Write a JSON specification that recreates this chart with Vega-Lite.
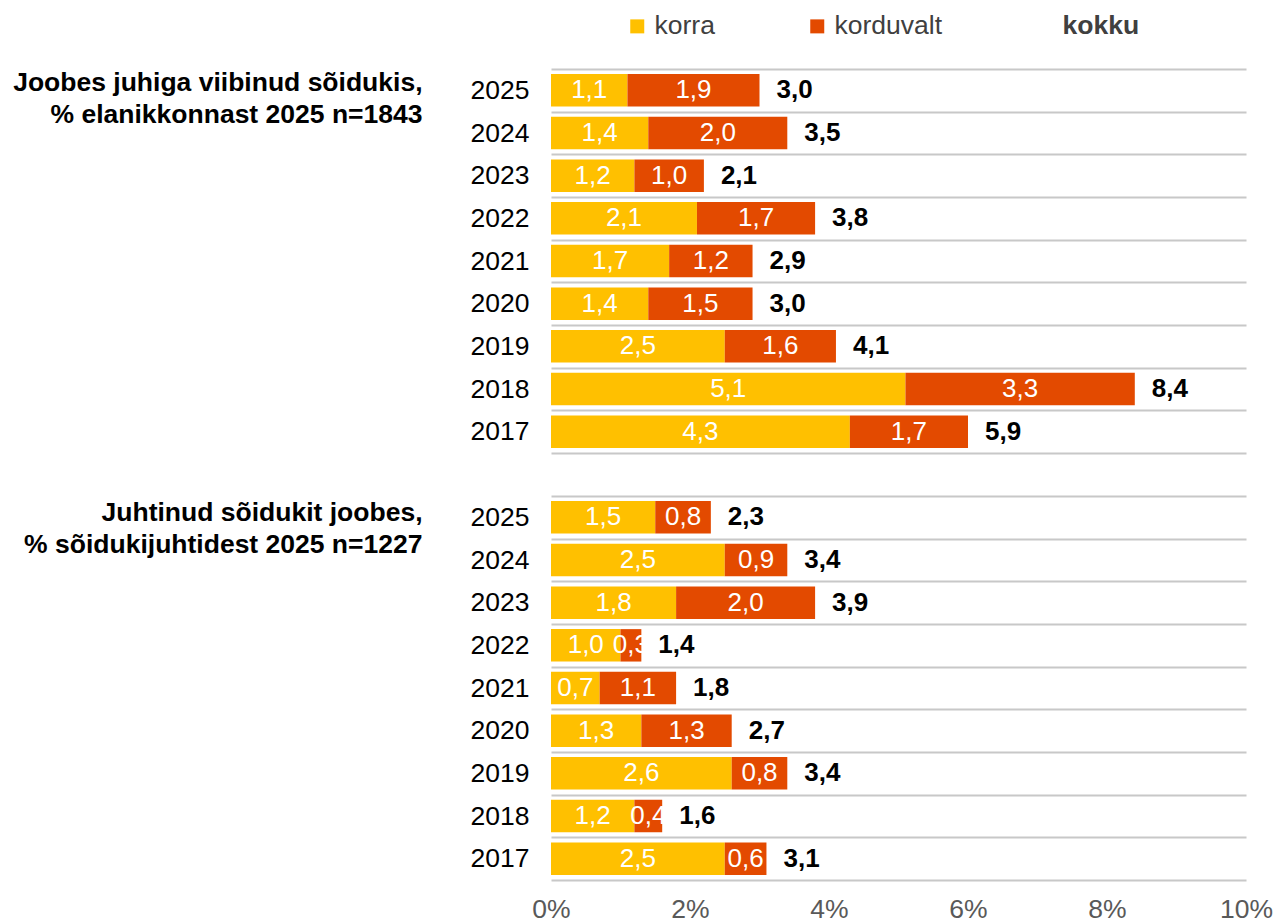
{
  "$schema": "https://vega.github.io/schema/vega-lite/v6.json",
  "padding": {"left": 12, "top": 13, "right": 5, "bottom": 0},
  "background": "white",
  "bounds": "flush",
  "spacing": 43,
  "config": {
    "locale": {"number": {"decimal": ",", "thousands": " ", "grouping": [3], "currency": ["", " €"]}},
    "view": {"stroke": null},
    "font": "Liberation Sans"
  },
  "resolve": {"legend": {"color": "independent"}},
  "datasets": {
    "rows": [
      {"group": "A", "year": "2025", "korra": 1.1, "korduvalt": 1.9, "kokku": 3.0},
      {"group": "A", "year": "2024", "korra": 1.4, "korduvalt": 2.0, "kokku": 3.5},
      {"group": "A", "year": "2023", "korra": 1.2, "korduvalt": 1.0, "kokku": 2.1},
      {"group": "A", "year": "2022", "korra": 2.1, "korduvalt": 1.7, "kokku": 3.8},
      {"group": "A", "year": "2021", "korra": 1.7, "korduvalt": 1.2, "kokku": 2.9},
      {"group": "A", "year": "2020", "korra": 1.4, "korduvalt": 1.5, "kokku": 3.0},
      {"group": "A", "year": "2019", "korra": 2.5, "korduvalt": 1.6, "kokku": 4.1},
      {"group": "A", "year": "2018", "korra": 5.1, "korduvalt": 3.3, "kokku": 8.4},
      {"group": "A", "year": "2017", "korra": 4.3, "korduvalt": 1.7, "kokku": 5.9},
      {"group": "B", "year": "2025", "korra": 1.5, "korduvalt": 0.8, "kokku": 2.3},
      {"group": "B", "year": "2024", "korra": 2.5, "korduvalt": 0.9, "kokku": 3.4},
      {"group": "B", "year": "2023", "korra": 1.8, "korduvalt": 2.0, "kokku": 3.9},
      {"group": "B", "year": "2022", "korra": 1.0, "korduvalt": 0.3, "kokku": 1.4},
      {"group": "B", "year": "2021", "korra": 0.7, "korduvalt": 1.1, "kokku": 1.8},
      {"group": "B", "year": "2020", "korra": 1.3, "korduvalt": 1.3, "kokku": 2.7},
      {"group": "B", "year": "2019", "korra": 2.6, "korduvalt": 0.8, "kokku": 3.4},
      {"group": "B", "year": "2018", "korra": 1.2, "korduvalt": 0.4, "kokku": 1.6},
      {"group": "B", "year": "2017", "korra": 2.5, "korduvalt": 0.6, "kokku": 3.1}
    ]
  },
  "vconcat": [
    {
      "width": 695,
      "height": 384,
      "data": {"name": "rows"},
      "transform": [
        {"filter": "datum.group === 'A'"},
        {"fold": ["korra", "korduvalt"], "as": ["series", "value"]}
      ],
      "encoding": {
        "y": {
          "field": "year", "type": "nominal", "sort": "descending",
          "scale": {"paddingInner": 0, "paddingOuter": 0},
          "axis": {
            "title": ["Joobes juhiga viibinud sõidukis,", "% elanikkonnast 2025 n=1843"],
            "titleAngle": 0, "titleAlign": "right", "titleBaseline": "alphabetic",
            "titleX": -129, "titleY": 21, "titleFont": "Liberation Sans", "titleFontSize": 26.5,
            "titleFontWeight": "bold", "titleColor": "#000000", "titleLineHeight": 32.5,
            "labelFont": "Liberation Sans", "labelFontSize": 26.5, "labelColor": "#000000", "labelPadding": 22,
            "ticks": false, "domain": false, "grid": true, "tickBand": "extent",
            "gridColor": "#c8c8c8", "gridWidth": 2
          }
        }
      },
      "layer": [
        {
          "mark": {"type": "bar", "height": {"band": 0.76}},
          "encoding": {
            "x": {"field": "value", "type": "quantitative", "stack": "zero", "scale": {"domain": [0, 10]}, "axis": null},
            "color": {
              "field": "series", "type": "nominal",
              "scale": {"domain": ["korra", "korduvalt", "kokku"], "range": ["#FFC000", "#E34A00", "rgba(0,0,0,0)"]},
              "legend": {
                "title": null, "orient": "none", "legendX": 73, "legendY": -56, "direction": "horizontal",
                "symbolType": "square", "symbolSize": 196, "symbolStrokeWidth": 0,
                "labelFont": "Liberation Sans", "labelFontSize": 26.5, "labelColor": "#404040", "labelOffset": 4,
                "columnPadding": 89,
                "encode": {"labels": {"update": {"fontWeight": {"signal": "datum.value === 'kokku' ? 'bold' : 'normal'"}}}}
              }
            },
            "order": {"field": "series", "sort": "descending"}
          }
        },
        {
          "mark": {"type": "text", "color": "white", "fontSize": 26, "font": "Liberation Sans"},
          "encoding": {
            "x": {"field": "value", "type": "quantitative", "stack": "zero", "bandPosition": 0.5, "axis": null},
            "detail": {"field": "series"},
            "order": {"field": "series", "sort": "descending"},
            "text": {"field": "value", "type": "quantitative", "format": ".1f"}
          }
        },
        {
          "mark": {"type": "text", "color": "#000000", "fontSize": 26, "fontWeight": "bold", "align": "left", "dx": 17, "font": "Liberation Sans"},
          "encoding": {
            "x": {"aggregate": "sum", "field": "value", "type": "quantitative", "axis": null},
            "text": {"aggregate": "max", "field": "kokku", "type": "quantitative", "format": ".1f"}
          }
        }
      ]
    },
    {
      "width": 695,
      "height": 384,
      "data": {"name": "rows"},
      "transform": [
        {"filter": "datum.group === 'B'"},
        {"fold": ["korra", "korduvalt"], "as": ["series", "value"]}
      ],
      "encoding": {
        "y": {
          "field": "year", "type": "nominal", "sort": "descending",
          "scale": {"paddingInner": 0, "paddingOuter": 0},
          "axis": {
            "title": ["Juhtinud sõidukit joobes,", "% sõidukijuhtidest 2025 n=1227"],
            "titleAngle": 0, "titleAlign": "right", "titleBaseline": "alphabetic",
            "titleX": -129, "titleY": 24, "titleFont": "Liberation Sans", "titleFontSize": 26.5,
            "titleFontWeight": "bold", "titleColor": "#000000", "titleLineHeight": 32.5,
            "labelFont": "Liberation Sans", "labelFontSize": 26.5, "labelColor": "#000000", "labelPadding": 22,
            "ticks": false, "domain": false, "grid": true, "tickBand": "extent",
            "gridColor": "#c8c8c8", "gridWidth": 2
          }
        }
      },
      "layer": [
        {
          "mark": {"type": "bar", "height": {"band": 0.76}},
          "encoding": {
            "x": {
              "field": "value", "type": "quantitative", "stack": "zero", "scale": {"domain": [0, 10]},
              "axis": {"title": null, "values": [0, 2, 4, 6, 8, 10], "labelExpr": "datum.value + '%'",
                       "labelFont": "Liberation Sans", "labelFontSize": 26.5, "labelColor": "#595959",
                       "labelFlush": false, "labelPadding": 16, "grid": false, "ticks": false, "domain": false}
            },
            "color": {
              "field": "series", "type": "nominal",
              "scale": {"domain": ["korra", "korduvalt", "kokku"], "range": ["#FFC000", "#E34A00", "rgba(0,0,0,0)"]},
              "legend": null
            },
            "order": {"field": "series", "sort": "descending"}
          }
        },
        {
          "mark": {"type": "text", "color": "white", "fontSize": 26, "font": "Liberation Sans"},
          "encoding": {
            "x": {"field": "value", "type": "quantitative", "stack": "zero", "bandPosition": 0.5, "title": null},
            "detail": {"field": "series"},
            "order": {"field": "series", "sort": "descending"},
            "text": {"field": "value", "type": "quantitative", "format": ".1f"}
          }
        },
        {
          "mark": {"type": "text", "color": "#000000", "fontSize": 26, "fontWeight": "bold", "align": "left", "dx": 17, "font": "Liberation Sans"},
          "encoding": {
            "x": {"aggregate": "sum", "field": "value", "type": "quantitative", "title": null},
            "text": {"aggregate": "max", "field": "kokku", "type": "quantitative", "format": ".1f"}
          }
        }
      ]
    }
  ]
}
